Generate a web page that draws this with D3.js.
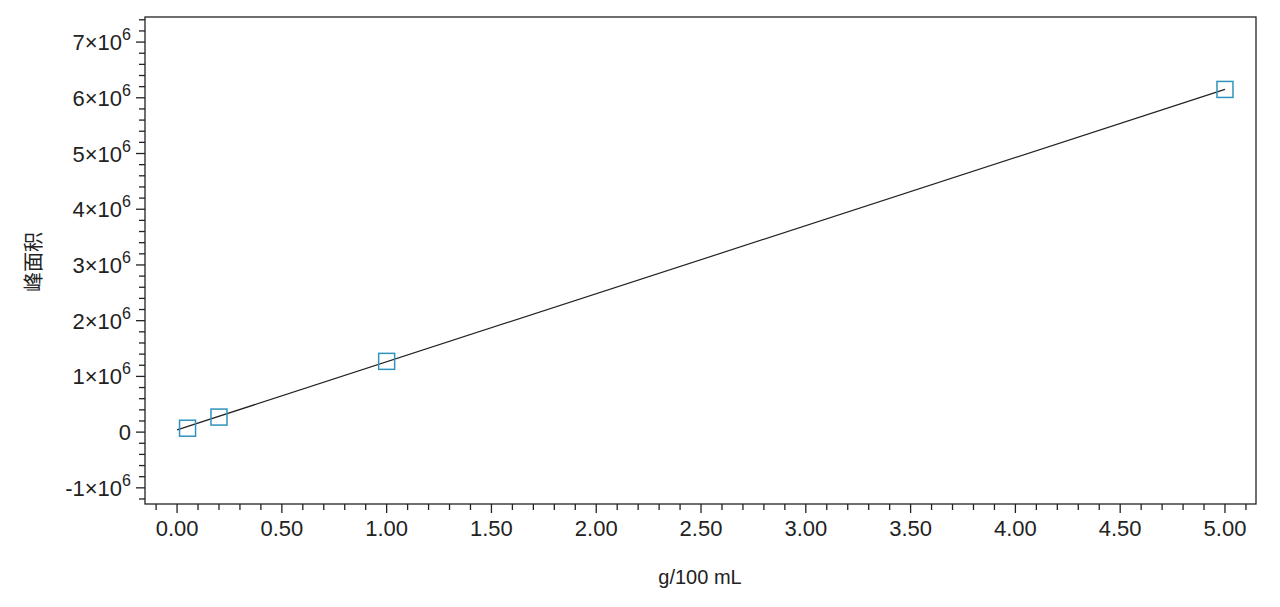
<!DOCTYPE html>
<html><head><meta charset="utf-8">
<script src="https://cdn.jsdelivr.net/npm/d3@7"></script>
<style>body{margin:0;background:#fff}text{font-family:Arial,"Liberation Sans",sans-serif;fill:#222}</style>
</head><body><svg id="c" width="1280" height="607"></svg>
<script>
const concentrations = [0.05, 0.2, 1.0, 5.0]
const peakAreas = [0.07e6, 0.27e6, 1.27e6, 6.15e6]
const fitLine = [[0, 0.04e6], [5.0, 6.15e6]]
const xTicks = [0, 0.5, 1, 1.5, 2, 2.5, 3, 3.5, 4, 4.5, 5]
const yTicks = [-1, 0, 1, 2, 3, 4, 5, 6, 7]

const m = { left: 145, top: 17, right: 1256, bottom: 504 }
const svg = d3.select("#c")
const x = d3.scaleLinear().domain([-0.153, 5.148]).range([m.left, m.right])
const y = d3.scaleLinear().domain([-1.29e6, 7.45e6]).range([m.bottom, m.top])

// minor ticks
const xMinor = d3.range(-1, 52).map(i => i / 10)
svg.append("g").selectAll("line").data(xMinor).join("line")
  .attr("x1", d => x(d)).attr("x2", d => x(d))
  .attr("y1", m.bottom).attr("y2", d => m.bottom + (Math.abs(d * 2 - Math.round(d * 2)) < 1e-6 ? 9 : 6))
  .attr("stroke", "#222").attr("stroke-width", 1.3)
const yMinor = d3.range(-6, 38).map(i => i * 0.2e6)
svg.append("g").selectAll("line").data(yMinor).join("line")
  .attr("y1", d => y(d)).attr("y2", d => y(d))
  .attr("x1", m.left).attr("x2", d => m.left - (Math.abs(d / 1e6 - Math.round(d / 1e6)) < 1e-6 ? 9 : 6))
  .attr("stroke", "#222").attr("stroke-width", 1.3)

svg.append("rect").attr("x", m.left).attr("y", m.top)
  .attr("width", m.right - m.left).attr("height", m.bottom - m.top)
  .attr("fill", "none").attr("stroke", "#222").attr("stroke-width", 1.3)

svg.append("g").selectAll("text").data(xTicks).join("text")
  .attr("x", d => x(d)).attr("y", 536).attr("text-anchor", "middle")
  .attr("font-size", 22).text(d => d.toFixed(2))

const yl = svg.append("g").selectAll("text").data(yTicks).join("text")
  .attr("x", 131).attr("y", d => y(d * 1e6) + 8).attr("text-anchor", "end")
  .attr("font-size", 22)
yl.each(function (d) {
  const t = d3.select(this)
  if (d === 0) { t.text("0"); return }
  t.append("tspan").text(`${d}×10`)
  t.append("tspan").attr("font-size", 16).attr("dy", -10).text("6")
})

svg.append("text").attr("x", 700).attr("y", 584).attr("text-anchor", "middle")
  .attr("font-size", 20).text("g/100 mL")
svg.append("text").attr("transform", "translate(41,262) rotate(-90)")
  .attr("text-anchor", "middle").attr("font-size", 20)
  .style("font-family", "'Noto Sans CJK SC',sans-serif").text("峰面积")

svg.append("path").datum(fitLine)
  .attr("d", d3.line().x(d => x(d[0])).y(d => y(d[1])))
  .attr("stroke", "#222").attr("stroke-width", 1.2).attr("fill", "none")

svg.append("g").selectAll("rect").data(concentrations).join("rect")
  .attr("x", (d) => x(d) - 8).attr("y", (d, i) => y(peakAreas[i]) - 8)
  .attr("width", 16).attr("height", 16)
  .attr("fill", "none").attr("stroke", "#2f93bd").attr("stroke-width", 1.5)
</script></body></html>
